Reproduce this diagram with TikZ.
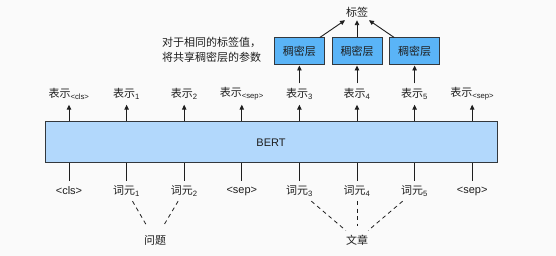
\documentclass[tikz,border=0pt]{standalone}
\usepackage{fontspec}
\setmainfont{Liberation Sans}
\newfontfamily\cjk{Noto Sans CJK SC}
\usetikzlibrary{arrows.meta}
\definecolor{bgcol}{RGB}{250,250,250}
\definecolor{bertblue}{RGB}{178,216,252}
\definecolor{denseblue}{RGB}{90,180,247}
\definecolor{boxline}{RGB}{51,56,61}
\definecolor{ink}{RGB}{30,30,30}
\tikzset{
  bertbox/.style={draw=boxline, fill=bertblue, line width=1pt, minimum width=452pt, minimum height=41pt, inner sep=0pt},
  dense/.style={draw=boxline, fill=denseblue, line width=1pt, minimum width=50pt, minimum height=27pt, inner sep=0pt},
  rep/.style={inner sep=0pt, minimum height=21pt},
  tok/.style={inner sep=0pt, minimum height=20pt},
  seg/.style={inner sep=0pt, minimum height=28pt},
  lab/.style={inner sep=0pt, minimum height=16pt, minimum width=24pt},
  arr/.style={draw=ink, line width=0.9pt, -{Triangle[length=5pt,width=4.5pt]}},
  link/.style={draw=ink, line width=0.9pt},
  segline/.style={draw=ink, line width=0.8pt, dash pattern=on 4pt off 3.5pt}
}
\newcommand{\rep}[1]{{\cjk 表示}\textsubscript{#1}}
\newcommand{\tok}[1]{{\cjk 词元}\textsubscript{#1}}

\begin{document}
\begin{tikzpicture}[x=1pt, y=-1pt, font=\fontsize{11}{13}\selectfont, text=ink]
  \useasboundingbox[fill=bgcol] (0,0) rectangle (556,256);
  \node[bertbox] (bert) at (271,142.5) {BERT};
  \foreach \x/\r/\t [count=\i] in {69/{<cls>}/{<cls>}, 126.6/1/{\tok{1}}, 184.2/2/{\tok{2}},
      241.8/{<sep>}/{<sep>}, 299.4/3/{\tok{3}}, 357/4/{\tok{4}}, 414.6/5/{\tok{5}}, 472.2/{<sep>}/{<sep>}} {
    \node[rep] (r\i) at (\x,94) {\rep{\r}};
    \node[tok] (t\i) at (\x,191) {\t};
    \draw[arr] (bert.north -| r\i) -- (r\i.south);
    \draw[link] (bert.south -| t\i) -- (t\i.north);
  }
  \node[lab] (label) at (357,12) {\cjk 标签};
  \foreach \i in {5,6,7} {
    \node[dense] (d\i) at (r\i |- 0,51.5) {\cjk 稠密层};
    \draw[arr] (r\i.north) -- (d\i.south);
    \draw[arr] (d\i) -- (label);
  }
  \node[anchor=west, align=left, inner sep=0pt, font=\cjk\fontsize{11}{15}\selectfont] (note) at (162,49.5)
    {对于相同的标签值，\\将共享稠密层的参数};
  \node[seg] (question) at (155,240) {\cjk 问题};
  \node[seg] (passage) at (357,240) {\cjk 文章};
  \foreach \i in {2,3} \draw[segline] (t\i) -- (question);
  \foreach \i in {5,6,7} \draw[segline] (t\i) -- (passage);
\end{tikzpicture}
\end{document}
